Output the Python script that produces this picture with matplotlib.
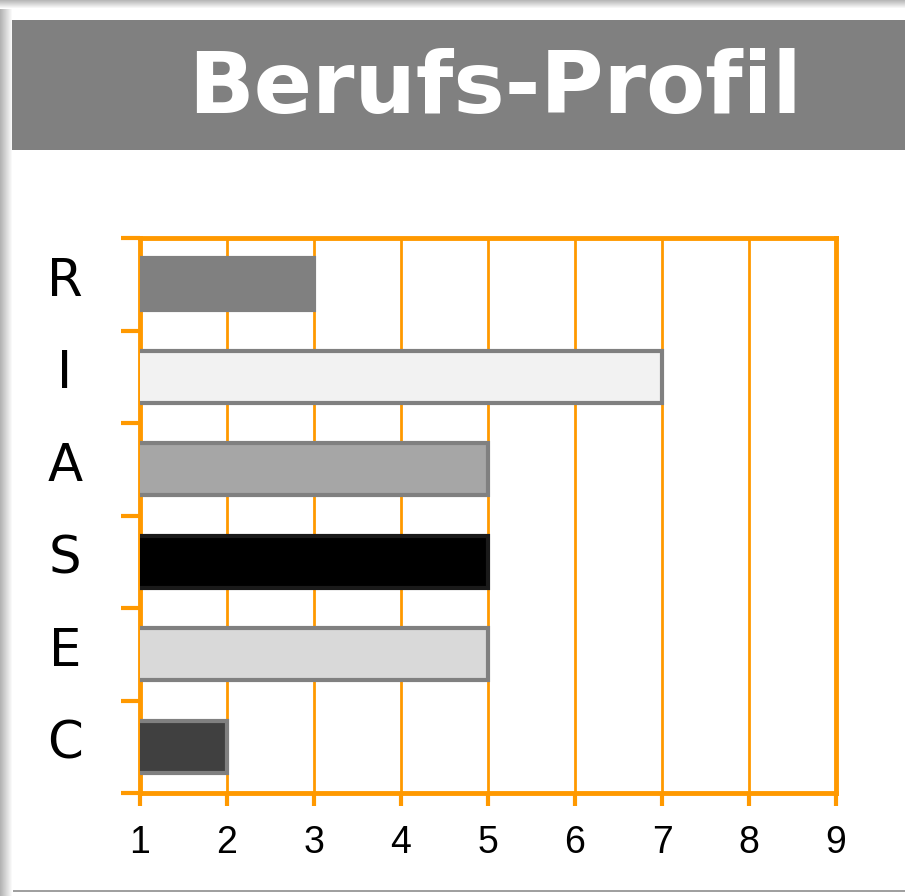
import matplotlib
matplotlib.use("Agg")
import matplotlib.pyplot as plt
import matplotlib.transforms as mtransforms
import numpy as np
from matplotlib.patches import Rectangle

categories = ["R", "I", "A", "S", "E", "C"]
values = [3, 7, 5, 5, 5, 2]
fill_colors = ["#808080", "#f2f2f2", "#a6a6a6", "#000000", "#d9d9d9", "#404040"]
edge_colors = ["#808080", "#808080", "#808080", "#1a1a1a", "#808080", "#808080"]
x_ticks = [1, 2, 3, 4, 5, 6, 7, 8, 9]
title = "Berufs-Profil"

ORANGE = "#ff9900"
W, H = 905, 896
fig = plt.figure(figsize=(W / 100, H / 100), dpi=100)
fig.patch.set_facecolor("white")

# screenshot frame: left shadow, top shadow, bottom line
for i in range(13):
    c = 0.70 + 0.3 * (i / 12.0)
    fig.add_artist(Rectangle((i / W, 0), 1 / W, 1, transform=fig.transFigure,
                             facecolor=(c, c, c), edgecolor="none", zorder=0))
for i in range(9):
    c = 0.72 + 0.28 * (i / 8.0)
    fig.add_artist(Rectangle((0, 1 - (i + 1) / H), 1, 1 / H, transform=fig.transFigure,
                             facecolor=(c, c, c), edgecolor="none", zorder=0))
fig.add_artist(Rectangle((13 / W, 1 - 892 / H), 1, 2 / H, transform=fig.transFigure,
                         facecolor="#a0a0a0", edgecolor="none", zorder=0))

# title band
fig.add_artist(Rectangle((12 / W, 1 - 150 / H), 1, 130 / H, transform=fig.transFigure,
                         facecolor="#808080", edgecolor="none", zorder=1))
fig.text(495 / W, 1 - 90 / H, title, ha="center", va="center", color="white",
         fontsize=62, fontweight="bold", family=["DejaVu Sans"], zorder=2)

ax = fig.add_axes([140 / W, 1 - 793 / H, (836 - 140) / W, (793 - 238) / H])
ypos = np.arange(len(categories))
ax.barh(ypos, values, height=0.56, color=fill_colors, edgecolor=edge_colors,
        linewidth=3, zorder=3)
ax.set_xlim(1, 9)
ax.set_ylim(len(categories) - 0.5, -0.5)

ax.set_xticks(x_ticks)
ax.set_xticklabels([str(t) for t in x_ticks], family=["Liberation Sans", "DejaVu Sans"],
                   fontsize=27)
ax.tick_params(axis="x", direction="out", length=9, width=3, color=ORANGE, pad=14)

ax.set_yticks(ypos)
ax.set_yticklabels(categories, fontsize=37, family=["DejaVu Sans"], ha="center")
ax.tick_params(axis="y", which="major", length=0, pad=54)
ax.set_yticks(np.arange(len(categories) + 1) - 0.5, minor=True)
ax.tick_params(axis="y", which="minor", direction="out", length=14, width=3, color=ORANGE)
shift = mtransforms.ScaledTranslation(0, 8 / 100, fig.dpi_scale_trans)
for lab in ax.get_yticklabels():
    lab.set_transform(lab.get_transform() + shift)

ax.grid(axis="x", color=ORANGE, linewidth=2, zorder=1)
ax.set_axisbelow(True)
for s in ax.spines.values():
    s.set_color(ORANGE)
    s.set_linewidth(3.5)

fig.savefig("out.png", dpi=100)
